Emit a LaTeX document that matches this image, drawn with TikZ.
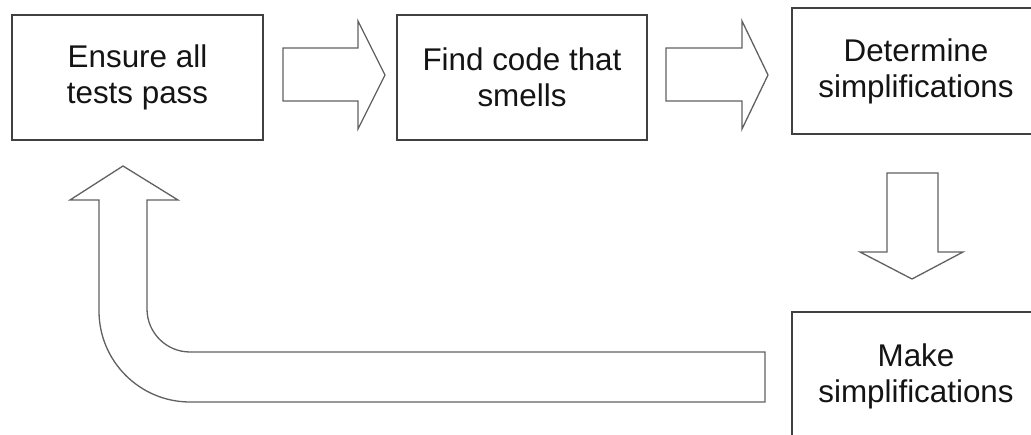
\documentclass[tikz,border=0pt]{standalone}
\usepackage{fontspec}
\setmainfont{Liberation Sans}
\begin{document}
\begin{tikzpicture}[x=1bp,y=-1bp,
  stepbox/.style={draw=black!75,line width=1.5bp,fill=white,align=center,
    text=black!92,inner sep=0pt,font=\fontsize{31.5}{36}\selectfont},
  blockarrow/.style={draw=black!62,line width=1.3bp,fill=white,line join=miter}]
\clip (0,0) rectangle (1031,435);
\fill[white] (0,0) rectangle (1031,435);
\node[stepbox,minimum width=251bp,minimum height=125bp] (ensure) at (137.5,77.5) {Ensure all\\tests pass};
\node[stepbox,minimum width=250bp,minimum height=125bp] (find) at (522,77.5) {Find code that\\smells};
\node[stepbox,minimum width=248bp,minimum height=126bp] (determine) at (916,71) {Determine\\simplifications};
\node[stepbox,minimum width=248bp,minimum height=128bp] (make) at (916,376) {Make\\simplifications};
% block arrows
\draw[blockarrow] (283,48) -- (358,48) -- (358,21) -- (385,75) -- (358,129) -- (358,101) -- (283,101) -- cycle;
\draw[blockarrow] (666,48) -- (742,48) -- (742,21) -- (768,75) -- (742,129) -- (742,101) -- (666,101) -- cycle;
\draw[blockarrow] (887,173) -- (938,173) -- (938,252) -- (963,252) -- (912,279) -- (860,252) -- (887,252) -- cycle;
\draw[blockarrow] (765,352) -- (190,352) .. controls (166.3,352) and (147,332.7) .. (147,309)
  -- (147,200) -- (178,200) -- (123,166) -- (70,200) -- (99,200) -- (99,311)
  .. controls (99,361.2) and (139.8,402) .. (190,402) -- (765,402) -- cycle;
\end{tikzpicture}
\end{document}
